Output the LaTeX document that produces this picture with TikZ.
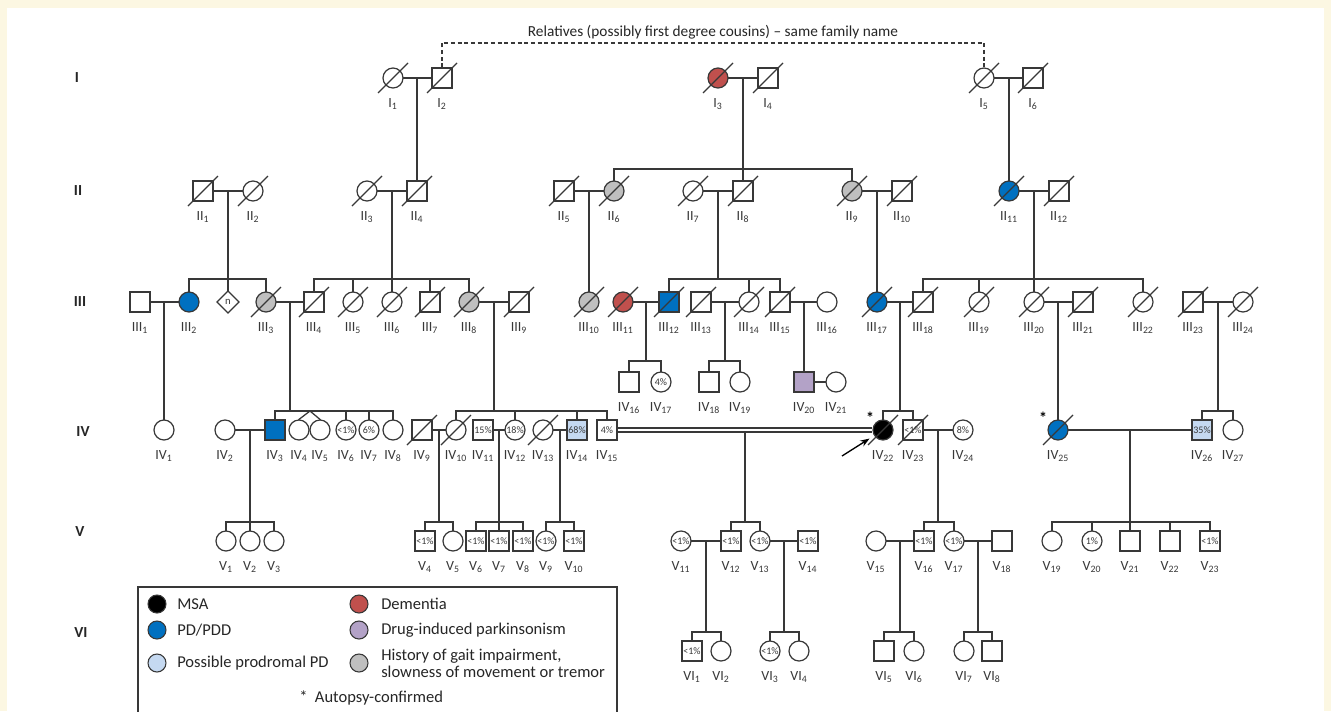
\documentclass[tikz,border=0pt]{standalone}
\usepackage{fontspec}
\setmainfont{Carlito}
\usetikzlibrary{calc,shapes.geometric,arrows.meta}
\definecolor{lc}{HTML}{383838}
\definecolor{cream}{HTML}{FCF7E2}
\definecolor{redc}{HTML}{C0504D}
\definecolor{bluec}{HTML}{0070C0}
\definecolor{lblue}{HTML}{C5D9F1}
\definecolor{purp}{HTML}{B3A2C7}
\definecolor{grayc}{HTML}{BFBFBF}
\newcommand\sbs[1]{\textsubscript{#1}}
\newcommand\sibs[5]{%
  \draw[ln] (#1) -- (#1 |- 0,#2);
  \draw[ln] (#3.north |- 0,#2) -- (#4.north |- 0,#2);
  \foreach \ch in {#5}{\draw[ln] (\ch.north) -- (\ch.north |- 0,#2);}}
\newcommand\desc[2]{\draw[ln] (#2.north |- #1) -- (#2.north);}
\newcommand\mate[3]{\draw[ln] (#1) -- (#2); \coordinate (#3) at ($(#1)!.5!(#2)$);}
\begin{document}
\begin{tikzpicture}[x=0.75pt,y=-0.75pt,
  ln/.style={draw=lc,line width=0.95pt,line cap=rect},
  slash/.style={draw=lc,line width=0.85pt},
  sym/.style={draw=lc,line width=0.9pt,fill=white,inner sep=0pt,minimum size=15pt,font=\fontsize{7.5}{7.5}\selectfont,text=lc},
  m/.style={sym,rectangle},
  f/.style={sym,circle},
  lbl/.style={font=\fontsize{10.5}{11}\selectfont,text=lc,inner sep=0pt},
  lab/.style={label={[lbl]below:#1}},
  label distance=7pt,
  gen/.style={font=\fontsize{11.5}{12}\selectfont\bfseries,text=black!85},
  lgc/.style={circle,draw=lc,line width=0.8pt,minimum size=13.5pt,inner sep=0pt},
  lgt/.style={font=\fontsize{12.4}{12.75}\selectfont,text=black!85,anchor=west,inner sep=0pt,align=left},
  arr/.style={-{Stealth[length=7pt,width=5pt]},line width=1pt,black,shorten >=4pt}
]
\useasboundingbox (0,0) rectangle (1331,711);
\clip (0,0) rectangle (1331,711);
\fill[cream] (0,0) rectangle (1331,711);
\fill[white] (7,8) rectangle (1324,711);

% ---------- generation labels
\node[gen] (gI) at (77,78) {I};
\node[gen] (gII) at (78,191) {II};
\node[gen] (gIII) at (80,302) {III};
\node[gen] (gIV) at (83,432) {IV};
\node[gen] (gV) at (80,532) {V};
\node[gen] (gVI) at (81,633) {VI};

% ---------- Generation I
\node[f,lab=I\sbs{1}] (I1) at (393,78) {};
\node[m,lab=I\sbs{2}] (I2) at (442,78) {};
\node[f,fill=redc,lab=I\sbs{3}] (I3) at (718,78) {};
\node[m,lab=I\sbs{4}] (I4) at (768,78) {};
\node[f,lab=I\sbs{5}] (I5) at (984,78) {};
\node[m,lab=I\sbs{6}] (I6) at (1033,78) {};

% ---------- Generation II
\node[m,lab=II\sbs{1}] (II1) at (203,191) {};
\node[f,lab=II\sbs{2}] (II2) at (253,191) {};
\node[f,lab=II\sbs{3}] (II3) at (367,191) {};
\node[m,lab=II\sbs{4}] (II4) at (417,191) {};
\node[m,lab=II\sbs{5}] (II5) at (564,191) {};
\node[f,fill=grayc,lab=II\sbs{6}] (II6) at (614,191) {};
\node[f,lab=II\sbs{7}] (II7) at (693,191) {};
\node[m,lab=II\sbs{8}] (II8) at (743,191) {};
\node[f,fill=grayc,lab=II\sbs{9}] (II9) at (852,191) {};
\node[m,lab=II\sbs{10}] (II10) at (902,191) {};
\node[f,fill=bluec,lab=II\sbs{11}] (II11) at (1009,191) {};
\node[m,lab=II\sbs{12}] (II12) at (1059,191) {};

% ---------- Generation III
\node[m,lab=III\sbs{1}] (III1) at (140,302) {};
\node[f,fill=bluec,lab=III\sbs{2}] (III2) at (189,302) {};
\node[diamond,draw=lc,line width=0.9pt,fill=white,inner sep=0pt,minimum size=17pt,font=\fontsize{8}{8}\selectfont,text=lc] (n3) at (228,302) {n};
\node[f,fill=grayc,lab=III\sbs{3}] (III3) at (266,302) {};
\node[m,lab=III\sbs{4}] (III4) at (314,302) {};
\node[f,lab=III\sbs{5}] (III5) at (353,302) {};
\node[f,lab=III\sbs{6}] (III6) at (392,302) {};
\node[m,lab=III\sbs{7}] (III7) at (430,302) {};
\node[f,fill=grayc,lab=III\sbs{8}] (III8) at (469,302) {};
\node[m,lab=III\sbs{9}] (III9) at (519,302) {};
\node[f,fill=grayc,lab=III\sbs{10}] (III10) at (589,302) {};
\node[f,fill=redc,lab=III\sbs{11}] (III11) at (623,302) {};
\node[m,fill=bluec,lab=III\sbs{12}] (III12) at (669,302) {};
\node[m,lab=III\sbs{13}] (III13) at (701,302) {};
\node[f,lab=III\sbs{14}] (III14) at (749,302) {};
\node[m,lab=III\sbs{15}] (III15) at (780,302) {};
\node[f,lab=III\sbs{16}] (III16) at (827,302) {};
\node[f,fill=bluec,lab=III\sbs{17}] (III17) at (877,302) {};
\node[m,lab=III\sbs{18}] (III18) at (923,302) {};
\node[f,lab=III\sbs{19}] (III19) at (979,302) {};
\node[f,lab=III\sbs{20}] (III20) at (1034,302) {};
\node[m,lab=III\sbs{21}] (III21) at (1083,302) {};
\node[f,lab=III\sbs{22}] (III22) at (1143,302) {};
\node[m,lab=III\sbs{23}] (III23) at (1193,302) {};
\node[f,lab=III\sbs{24}] (III24) at (1243,302) {};

% ---------- Generation IV (upper row)
\node[m,lab=IV\sbs{16}] (IV16) at (629,382) {};
\node[f,lab=IV\sbs{17}] (IV17) at (661,382) {4\%};
\node[m,lab=IV\sbs{18}] (IV18) at (709,382) {};
\node[f,lab=IV\sbs{19}] (IV19) at (740,382) {};
\node[m,fill=purp,lab=IV\sbs{20}] (IV20) at (804,382) {};
\node[f,lab=IV\sbs{21}] (IV21) at (836,382) {};

% ---------- Generation IV (main row)
\node[f,lab=IV\sbs{1}] (IV1) at (164,430) {};
\node[f,lab=IV\sbs{2}] (IV2) at (225,430) {};
\node[m,fill=bluec,lab=IV\sbs{3}] (IV3) at (275,430) {};
\node[f,lab=IV\sbs{4}] (IV4) at (299,430) {};
\node[f,lab=IV\sbs{5}] (IV5) at (320,430) {};
\node[f,lab=IV\sbs{6}] (IV6) at (346,430) {<1\%};
\node[f,lab=IV\sbs{7}] (IV7) at (369,430) {6\%};
\node[f,lab=IV\sbs{8}] (IV8) at (393,430) {};
\node[m,lab=IV\sbs{9}] (IV9) at (422,430) {};
\node[f,lab=IV\sbs{10}] (IV10) at (456,430) {};
\node[m,lab=IV\sbs{11}] (IV11) at (483,430) {15\%};
\node[f,lab=IV\sbs{12}] (IV12) at (515,430) {18\%};
\node[f,lab=IV\sbs{13}] (IV13) at (543,430) {};
\node[m,fill=lblue,lab=IV\sbs{14}] (IV14) at (577,430) {68\%};
\node[m,lab=IV\sbs{15}] (IV15) at (607,430) {4\%};
\node[f,fill=black,lab=IV\sbs{22}] (IV22) at (883,430) {};
\node[m,lab=IV\sbs{23}] (IV23) at (913,430) {<1\%};
\node[f,lab=IV\sbs{24}] (IV24) at (963,430) {8\%};
\node[f,fill=bluec,lab=IV\sbs{25}] (IV25) at (1058,430) {};
\node[m,fill=lblue,lab=IV\sbs{26}] (IV26) at (1202,430) {35\%};
\node[f,lab=IV\sbs{27}] (IV27) at (1233,430) {};

% ---------- Generation V
\node[f,lab=V\sbs{1}] (V1) at (226,541) {};
\node[f,lab=V\sbs{2}] (V2) at (250,541) {};
\node[f,lab=V\sbs{3}] (V3) at (274,541) {};
\node[m,lab=V\sbs{4}] (V4) at (425,541) {<1\%};
\node[f,lab=V\sbs{5}] (V5) at (453,541) {};
\node[m,lab=V\sbs{6}] (V6) at (476,541) {<1\%};
\node[m,lab=V\sbs{7}] (V7) at (499,541) {<1\%};
\node[m,lab=V\sbs{8}] (V8) at (523,541) {<1\%};
\node[f,lab=V\sbs{9}] (V9) at (546,541) {<1\%};
\node[m,lab=V\sbs{10}] (V10) at (574,541) {<1\%};
\node[f,lab=V\sbs{11}] (V11) at (681,541) {<1\%};
\node[m,lab=V\sbs{12}] (V12) at (731,541) {<1\%};
\node[f,lab=V\sbs{13}] (V13) at (760,541) {<1\%};
\node[m,lab=V\sbs{14}] (V14) at (808,541) {<1\%};
\node[f,lab=V\sbs{15}] (V15) at (876,541) {};
\node[m,lab=V\sbs{16}] (V16) at (924,541) {<1\%};
\node[f,lab=V\sbs{17}] (V17) at (954,541) {<1\%};
\node[m,lab=V\sbs{18}] (V18) at (1002,541) {};
\node[f,lab=V\sbs{19}] (V19) at (1052,541) {};
\node[f,lab=V\sbs{20}] (V20) at (1092,541) {1\%};
\node[m,lab=V\sbs{21}] (V21) at (1130,541) {};
\node[m,lab=V\sbs{22}] (V22) at (1170,541) {};
\node[m,lab=V\sbs{23}] (V23) at (1210,541) {<1\%};

% ---------- Generation VI
\node[m,lab=VI\sbs{1}] (VI1) at (692,651) {<1\%};
\node[f,lab=VI\sbs{2}] (VI2) at (721,651) {};
\node[f,lab=VI\sbs{3}] (VI3) at (770,651) {<1\%};
\node[f,lab=VI\sbs{4}] (VI4) at (799,651) {};
\node[m,lab=VI\sbs{5}] (VI5) at (884,651) {};
\node[f,lab=VI\sbs{6}] (VI6) at (914,651) {};
\node[f,lab=VI\sbs{7}] (VI7) at (964,651) {};
\node[m,lab=VI\sbs{8}] (VI8) at (992,651) {};

% ---------- matings and descent lines
\mate{I1}{I2}{mI12} \mate{I3}{I4}{mI34} \mate{I5}{I6}{mI56}
\desc{mI12}{II4}
\sibs{mI34}{169}{II6}{II9}{II6,II8,II9}
\desc{mI56}{II11}

\mate{II1}{II2}{mII12} \mate{II3}{II4}{mII34} \mate{II5}{II6}{mII56}
\mate{II7}{II8}{mII78} \mate{II9}{II10}{mII910} \mate{II11}{II12}{mII1112}
\sibs{mII12}{279}{III2}{III3}{III2,n3,III3}
\sibs{mII34}{279}{III4}{III8}{III4,III5,III6,III7,III8}
\desc{mII56}{III10}
\sibs{mII78}{279}{III12}{III15}{III12,III14,III15}
\desc{mII910}{III17}
\sibs{mII1112}{279}{III18}{III22}{III18,III19,III20,III22}

\mate{III1}{III2}{mIII12} \mate{III3}{III4}{mIII34} \mate{III8}{III9}{mIII89}
\mate{III11}{III12}{mIII1112} \mate{III13}{III14}{mIII1314} \mate{III15}{III16}{mIII1516}
\mate{III17}{III18}{mIII1718} \mate{III20}{III21}{mIII2021} \mate{III23}{III24}{mIII2324}
\desc{mIII12}{IV1}
\sibs{mIII34}{411}{IV3}{IV8}{IV3,IV6,IV7,IV8}
\coordinate (tw45) at (310,411);
\draw[ln] (IV4.north) -- (tw45) -- (IV5.north);
\sibs{mIII89}{411}{IV10}{IV15}{IV10,IV12,IV14,IV15}
\sibs{mIII1112}{361}{IV16}{IV17}{IV16,IV17}
\sibs{mIII1314}{361}{IV18}{IV19}{IV18,IV19}
\desc{mIII1516}{IV20}
\sibs{mIII1718}{411}{IV22}{IV23}{IV22,IV23}
\desc{mIII2021}{IV25}
\sibs{mIII2324}{411}{IV26}{IV27}{IV26,IV27}

\mate{IV2}{IV3}{mIV23} \mate{IV9}{IV10}{mIV910} \mate{IV11}{IV12}{mIV1112}
\mate{IV13}{IV14}{mIV1314} \mate{IV23}{IV24}{mIV2324} \mate{IV25}{IV26}{mIV2526}
\draw[ln] (IV20) -- (IV21);
\draw[draw=lc,line width=0.8pt,double=white,double distance=2.2pt] (IV15) -- (IV22);
\coordinate (mIV1522) at ($(IV15)!.5!(IV22)$);
\coordinate (mIV1522b) at ([yshift=-1.5pt]mIV1522);
\sibs{mIV1522b}{522}{V12}{V13}{V12,V13}
\sibs{mIV23}{522}{V1}{V3}{V1,V2,V3}
\sibs{mIV910}{522}{V4}{V5}{V4,V5}
\sibs{mIV1112}{522}{V6}{V8}{V6,V7,V8}
\sibs{mIV1314}{522}{V9}{V10}{V9,V10}
\sibs{mIV2324}{522}{V16}{V17}{V16,V17}
\sibs{mIV2526}{522}{V19}{V23}{V19,V20,V21,V22,V23}

\mate{V11}{V12}{mV1112} \mate{V13}{V14}{mV1314}
\mate{V15}{V16}{mV1516} \mate{V17}{V18}{mV1718}
\sibs{mV1112}{632}{VI1}{VI2}{VI1,VI2}
\sibs{mV1314}{632}{VI3}{VI4}{VI3,VI4}
\sibs{mV1516}{632}{VI5}{VI6}{VI5,VI6}
\sibs{mV1718}{632}{VI7}{VI8}{VI7,VI8}

% ---------- deceased slashes
\foreach \d in {I1,I2,I3,I4,I5,I6,II1,II2,II3,II4,II5,II6,II7,II8,II9,II10,II11,II12,
  III3,III4,III5,III6,III7,III8,III9,III10,III11,III12,III13,III14,III15,
  III17,III18,III19,III20,III21,III22,III23,III24,IV9,IV10,IV13,IV22,IV23,IV25}
  {\draw[slash] ([shift={(-15,15)}]\d.center) -- ([shift={(15,-15)}]\d.center);}

% ---------- relatives link
\coordinate (rel) at (713,43);
\draw[draw=lc,line width=0.8pt,dash pattern=on 3pt off 2pt] (I2.north) |- (rel) -| (I5.north);
\node[font=\fontsize{11.5}{12}\selectfont,text=black!85,inner sep=0pt] (reltxt) at (713,32) {Relatives (possibly first degree cousins) -- same family name};

% ---------- proband and autopsy marks
\coordinate (parr) at (842,456);
\draw[arr] (parr) -- (IV22);
\node[font=\fontsize{12}{12}\selectfont\bfseries,inner sep=0pt] (ast22) at (870,418) {*};
\node[font=\fontsize{12}{12}\selectfont\bfseries,inner sep=0pt] (ast25) at (1043,418) {*};

% ---------- legend
\draw[draw=lc,line width=0.8pt] (138,587) rectangle (617,725);
\node[lgc,fill=black] (lg1) at (157,604) {};
\node[lgt] (lt1) at (177,604) {MSA};
\node[lgc,fill=bluec] (lg2) at (157,630) {};
\node[lgt] (lt2) at (177,630) {PD/PDD};
\node[lgc,fill=lblue] (lg3) at (157,663) {};
\node[lgt] (lt3) at (177,663) {Possible prodromal PD};
\node[lgc,fill=redc] (lg4) at (359,604) {};
\node[lgt] (lt4) at (381,604) {Dementia};
\node[lgc,fill=purp] (lg5) at (359,630) {};
\node[lgt] (lt5) at (381,630) {Drug-induced parkinsonism};
\node[lgc,fill=grayc] (lg6) at (359,663) {};
\node[lgt] (lt6) at (381,663) {History of gait impairment,\\slowness of movement or tremor};
\node[lgt] (lt7) at (299,698) {*\ \ Autopsy-confirmed};
\end{tikzpicture}
\end{document}
